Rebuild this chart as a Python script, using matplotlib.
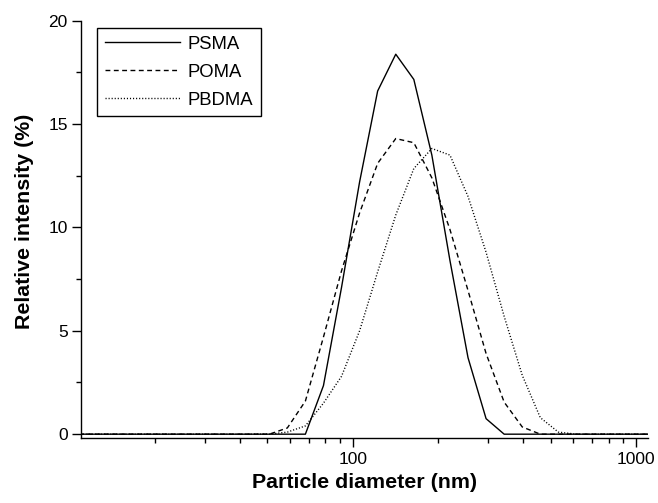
import matplotlib
matplotlib.use("Agg")
import matplotlib.pyplot as plt
from matplotlib.ticker import FixedLocator, NullFormatter, MultipleLocator

plt.rcParams["font.family"] = ["Liberation Sans", "DejaVu Sans"]

# size bins (nm)
diam = [10.1, 11.7, 13.54, 15.69, 18.17, 21.04, 24.36, 28.21, 32.67, 37.84,
        43.82, 50.75, 58.77, 68.06, 78.82, 91.28, 105.7, 122.4, 141.8, 164.2,
        190.1, 220.2, 255.0, 295.3, 342.0, 396.1, 458.7, 531.2, 615.1, 712.4,
        825.0, 955.4, 1106.0]

psma = [0, 0, 0, 0, 0, 0, 0, 0, 0, 0,
        0, 0, 0, 0, 2.35, 7.1, 12.2, 16.6, 18.38, 17.16,
        13.5, 8.4, 3.7, 0.75, 0, 0, 0, 0, 0, 0,
        0, 0, 0]
poma = [0, 0, 0, 0, 0, 0, 0, 0, 0, 0,
        0, 0, 0.3, 1.6, 4.7, 7.9, 10.7, 13.1, 14.3, 14.1,
        12.4, 9.9, 6.95, 3.9, 1.55, 0.35, 0, 0, 0, 0,
        0, 0, 0]
pbdma = [0, 0, 0, 0, 0, 0, 0, 0, 0, 0,
         0, 0, 0.1, 0.4, 1.5, 2.8, 5.0, 7.85, 10.6, 12.85,
         13.82, 13.5, 11.5, 8.8, 5.7, 2.85, 0.8, 0.1, 0, 0,
         0, 0, 0]

fig = plt.figure(figsize=(6.58, 5.03), dpi=100)
ax = fig.add_axes([0.1231, 0.1286, 0.8617, 0.8302])

ax.plot(diam, psma, color="black", lw=1.0, ls="-", label="PSMA")
ax.plot(diam, poma, color="black", lw=1.0, ls=(0, (3.5, 2.5)), label="POMA")
ax.plot(diam, pbdma, color="black", lw=1.0, ls=(0, (0.8, 1.4)), label="PBDMA")

ax.set_xscale("log")
ax.set_xlim(11, 1100)
ax.set_ylim(-0.2, 20)

ax.xaxis.set_major_locator(FixedLocator([100, 1000]))
ax.set_xticklabels(["100", "1000"])
minors = [m * d for d in (10, 100) for m in range(2, 10)]
ax.xaxis.set_minor_locator(FixedLocator(minors))
ax.xaxis.set_minor_formatter(NullFormatter())
ax.yaxis.set_major_locator(MultipleLocator(5))
ax.yaxis.set_minor_locator(MultipleLocator(2.5))

ax.spines["top"].set_visible(False)
ax.spines["right"].set_visible(False)
for s in ("left", "bottom"):
    ax.spines[s].set_linewidth(1.0)

ax.tick_params(which="major", direction="out", length=6.5, width=1.0, labelsize=12.5, pad=3)
ax.tick_params(which="minor", direction="out", length=3.5, width=1.0)

ax.set_xlabel("Particle diameter (nm)", fontsize=15.4, fontweight="bold", labelpad=5)
ax.set_ylabel("Relative intensity (%)", fontsize=15.4, fontweight="bold")
ax.yaxis.set_label_coords(-0.083, 0.52)

leg = ax.legend(loc="upper left", bbox_to_anchor=(0.0287, 0.9818), borderaxespad=0,
                fontsize=13.3, handlelength=4.1, handletextpad=0.41, labelspacing=0.6,
                fancybox=False, edgecolor="black", framealpha=1, borderpad=0.4)
leg.get_frame().set_linewidth(1.0)

fig.savefig("out.png", dpi=100)
